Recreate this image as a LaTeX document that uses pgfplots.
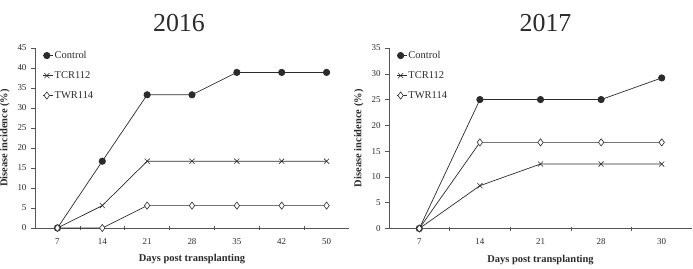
\documentclass[border=0pt]{standalone}
\usepackage{fontspec}
\setmainfont{Liberation Serif}
\usepackage{pgfplots}
\pgfplotsset{compat=1.18}

\definecolor{ink}{HTML}{2B2B2B}
\definecolor{axisgray}{HTML}{555555}

\pgfplotsset{
  incidence/.style={
    scale only axis,
    axis lines*=left,
    axis line style={-, draw=axisgray, line width=0.6bp},
    ymin=0,
    tick align=outside,
    tick style={draw=axisgray, line width=0.5bp},
    major tick length=4bp,
    minor tick length=4bp,
    major x tick style={draw=none},
    minor x tick style={draw=axisgray, yshift=2bp},
    /pgf/number format/assume math mode=true,
    ticklabel style={font=\fontsize{9}{10}\selectfont, text=ink},
    xticklabel style={yshift=-3bp},
    yticklabel style={xshift=-1bp},
    xlabel={\textbf{Days post transplanting}},
    ylabel={\textbf{Disease incidence (\%)}},
    xlabel style={yshift=-3bp},
    ylabel style={yshift=1bp},
    label style={font=\fontsize{10.5}{12}\selectfont, text=ink},
    title style={font=\fontsize{26}{28}\selectfont, text=ink, yshift=7bp},
    legend style={draw=none, fill=none, at={(0.02,1.0)}, anchor=north west,
      font=\fontsize{10.5}{11}\selectfont, row sep=7.5bp, inner sep=1bp,
      text=ink, nodes={inner xsep=1.5bp}},
    legend cell align=left,
    legend image code/.code={
      \draw[mark repeat=2, mark phase=2] plot coordinates {(0bp,0bp) (4bp,0bp) (10bp,0bp)};
    },
    every axis plot/.append style={draw=ink, line width=0.7bp},
    ctrl/.style={mark=*, mark size=3.2bp, mark options={fill=ink, draw=ink}},
    tcr/.style={mark=x, mark size=3.6bp, mark options={draw=ink, line width=0.6bp}},
    twr/.style={mark=diamond*, mark size=3.6bp, mark options={fill=white, draw=ink, line width=0.6bp}},
  },
}

\begin{document}
\begin{tikzpicture}[x=1bp,y=1bp]
\path[use as bounding box] (0,0) rectangle (693,268);

% 2016 season
\begin{axis}[incidence,
  at={(35bp,40bp)}, anchor=south west,
  width=314bp, height=180bp,
  xmin=-0.5, xmax=6.5, ymax=45,
  xtick={0,...,6}, xticklabels={7,14,21,28,35,42,50},
  minor xtick={0.5,1.5,...,5.5},
  ytick={0,5,...,45},
  title={2016},
  title style={xshift=-13bp},
]
\addplot[ctrl] coordinates {(0,0) (1,16.7) (2,33.3) (3,33.3) (4,38.9) (5,38.9) (6,38.9)};
\addlegendentry{Control}
\addplot[tcr] coordinates {(0,0) (1,5.6) (2,16.7) (3,16.7) (4,16.7) (5,16.7) (6,16.7)};
\addlegendentry{TCR112}
\addplot[twr] coordinates {(0,0) (1,0) (2,5.6) (3,5.6) (4,5.6) (5,5.6) (6,5.6)};
\addlegendentry{TWR114}
\end{axis}

% 2017 season
\begin{axis}[incidence,
  at={(389bp,39.5bp)}, anchor=south west,
  width=303bp, height=180.5bp,
  xmin=-0.5, xmax=4.5, ymax=35,
  xtick={0,...,4}, xticklabels={7,14,21,28,30},
  minor xtick={0.5,1.5,...,3.5},
  ytick={0,5,...,35},
  title={2017},
  title style={xshift=5bp},
]
\addplot[ctrl] coordinates {(0,0) (1,25) (2,25) (3,25) (4,29.2)};
\addlegendentry{Control}
\addplot[tcr] coordinates {(0,0) (1,8.3) (2,12.5) (3,12.5) (4,12.5)};
\addlegendentry{TCR112}
\addplot[twr] coordinates {(0,0) (1,16.7) (2,16.7) (3,16.7) (4,16.7)};
\addlegendentry{TWR114}
\end{axis}
\end{tikzpicture}
\end{document}
